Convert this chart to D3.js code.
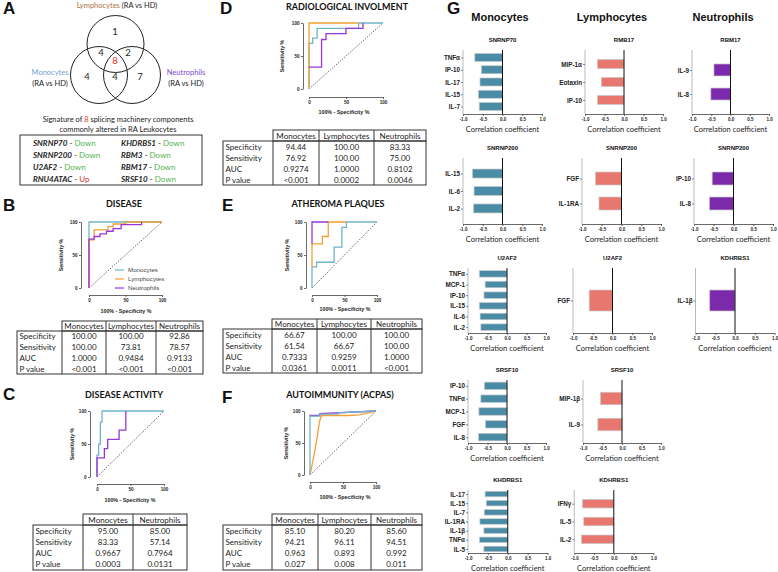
<!DOCTYPE html>
<html><head><meta charset="utf-8">
<script src="https://cdn.jsdelivr.net/npm/d3@7"></script>
<style>body{margin:0;background:#fff} svg{display:block}</style>
</head><body>
<svg id="c" width="778" height="572"></svg>
<script>
// ================= DATA =================
const panelLetters = ["A","B","C","D","E","F","G"];
const vennGroups = ["Lymphocytes","Monocytes","Neutrophils"];
const vennSub = "(RA vs HD)";
const vennCounts = ["1","4","2","8","4","4","7"];
const sigLine1 = ["Signature of ","8"," splicing machinery components"];
const sigLine2 = "commonly altered in RA Leukocytes";
const sigGenes = ["SNRNP70","SNRNP200","U2AF2","RNU4ATAC","KHDRBS1","RBM3","RBM17","SRSF10"];
const sigDir   = ["Down","Down","Down","Up","Down","Down","Down","Down"];

const rocTicks = [0,50,100];
const seriesNames = ["Monocytes","Lymphocytes","Neutrophils"];
// ROC points: [100% - specificity, sensitivity]
const rocDiseaseMono = [[0,0],[0,100],[100,100]];
const rocDiseaseLym  = [[0,0],[0,73],[7,73],[7,88],[26,88],[26,93],[33,93],[33,97],[50,97],[50,100],[100,100]];
const rocDiseaseNeu  = [[0,0],[0,74],[7,74],[7,78],[15,78],[15,82],[24,82],[24,86],[33,86],[33,90],[44,90],[44,96],[72,96],[72,100]];
const rocActivityMono = [[0,0],[0,33],[2.5,33],[2.5,50],[5,50],[5,83],[7.5,83],[7.5,100],[100,100]];
const rocActivityNeu  = [[0,0],[0,29],[11,29],[11,43],[16,43],[16,57],[33,57],[33,71],[43,71],[43,100]];
const rocRadioMono = [[0,0],[0,69],[5,69],[5,77],[11,77],[11,92],[67,92],[67,100],[100,100]];
const rocRadioLym  = [[0,0],[0,100],[67,100]];
const rocRadioNeu  = [[0,33],[17,33],[17,75],[23,75],[23,84],[50,84],[50,92],[73,92],[73,100]];
const rocAthMono = [[0,0],[0,32],[7,32],[7,39],[34,39],[34,62],[46,62],[46,92],[53,92],[53,100],[100,100]];
const rocAthLym  = [[0,32],[0,67],[16,67],[16,78],[25,78],[25,100],[53,100]];
const rocAthNeu  = [[0,67],[0,100],[25,100]];
const rocAcpaMono = [[0,0],[0,92],[14,92],[14,95],[43,95],[43,97],[100,100]];
const rocAcpaLym  = [[0,0],[4,20],[8,42],[11,60],[13,74],[15,86],[17,92],[20,93],[58,93],[75,94],[88,97],[100,100]];
const rocAcpaNeu  = [[0,92],[0,93],[15,93],[15,96],[100,100]];

const tableRows = ["Specificity","Sensitivity","AUC","P value"];
const tabDisease = [["100.00","100.00","1.0000","<0.001"],["100.00","73.81","0.9484","<0.001"],["92.86","78.57","0.9133","<0.001"]];
const tabActivity = [["95.00","83.33","0.9667","0.0003"],["85.00","57.14","0.7964","0.0131"]];
const tabRadio = [["94.44","76.92","0.9274","<0.001"],["100.00","100.00","1.0000","0.0002"],["83.33","75.00","0.8102","0.0046"]];
const tabAth = [["66.67","61.54","0.7333","0.0361"],["100.00","66.67","0.9259","0.0011"],["100.00","100.00","1.0000","<0.001"]];
const tabAcpa = [["85.10","94.21","0.963","0.027"],["80.20","96.11","0.893","0.008"],["85.60","94.51","0.992","0.011"]];

const corrTicks = [-1,-0.5,0,0.5,1];
const mSNRNP70_l = ["TNFα","IP-10","IL-17","IL-15","IL-7"], mSNRNP70_v = [-0.70,-0.53,-0.57,-0.61,-0.59];
const lRMB17_l = ["MIP-1α","Eotaxin","IP-10"], lRMB17_v = [-0.68,-0.58,-0.68];
const nRBM17_l = ["IL-9","IL-8"], nRBM17_v = [-0.43,-0.51];
const mSNRNP200_l = ["IL-15","IL-6","IL-2"], mSNRNP200_v = [-0.76,-0.72,-0.73];
const lSNRNP200_l = ["FGF","IL-1RA"], lSNRNP200_v = [-0.66,-0.57];
const nSNRNP200_l = ["IP-10","IL-8"], nSNRNP200_v = [-0.54,-0.61];
const mU2AF2_l = ["TNFα","MCP-1","IP-10","IL-15","IL-6","IL-2"], mU2AF2_v = [-0.71,-0.56,-0.59,-0.71,-0.69,-0.67];
const lU2AF2_l = ["FGF"], lU2AF2_v = [-0.59];
const nKDHRBS1_l = ["IL-1β"], nKDHRBS1_v = [-0.64];
const mSRSF10_l = ["IP-10","TNFα","MCP-1","FGF","IL-8"], mSRSF10_v = [-0.58,-0.67,-0.72,-0.55,-0.73];
const lSRSF10_l = ["MIP-1β","IL-9"], lSRSF10_v = [-0.55,-0.62];
const mKHDRBS1_l = ["IL-17","IL-15","IL-7","IL-1RA","IL-1β","TNFα","IL-5"], mKHDRBS1_v = [-0.57,-0.54,-0.59,-0.70,-0.60,-0.71,-0.60];
const lKDHRBS1_l = ["IFNγ","IL-5","IL-2"], lKDHRBS1_v = [-0.79,-0.76,-0.82];

// ================= STYLE =================
const FS = "Lato, 'Open Sans', sans-serif";
const FA = "'Liberation Sans', Arial, sans-serif";
const cMono = "#6fb5cb", cLym = "#f3a033", cNeu = "#9b35d8";
const bMono = "#4a8ba6", bLym = "#e8776f", bNeu = "#7a2aab";
const axisCol = "#444";

const svg = d3.select("#c");
function T(x,y,s,o={}) {
  const t = svg.append("text").attr("x",x).attr("y",y).text(s)
    .attr("font-family", o.ff||FS).attr("font-size", o.fs||8)
    .attr("font-weight", o.fw||"normal").attr("fill", o.fill||"#222")
    .attr("text-anchor", o.anchor||"start");
  if (o.style) t.attr("font-style", o.style);
  return t;
}

// ================= PANEL LETTERS =================
const letterPos = [[3,14],[3,211],[3,400],[220,14],[222,211],[222,403],[447,14]];
panelLetters.forEach((L,i)=>T(letterPos[i][0],letterPos[i][1],L,{ff:FA,fs:17,fw:"bold",fill:"#111"}));

// ================= PANEL A =================
(function(){
  const r = 28.5;
  const centers = [[115.5,44],[99,75],[132,75]];
  centers.forEach(c=>svg.append("circle").attr("cx",c[0]).attr("cy",c[1]).attr("r",r)
    .attr("fill","none").attr("stroke","#222").attr("stroke-width",1));
  const numPos = [[115,35],[101,56],[128,56],[115,64],[87,80],[115,80],[140,80]];
  vennCounts.forEach((n,i)=>T(numPos[i][0],numPos[i][1],n,{fs:9.5,anchor:"middle",fill:i===3?"#e0302a":"#222"}));
  const t1 = T(117,8,"",{fs:7.5,anchor:"middle"});
  t1.append("tspan").attr("fill","#b0703a").text(vennGroups[0]+" ");
  t1.append("tspan").text(vennSub);
  T(50,75,vennGroups[1],{fs:7.5,anchor:"middle",fill:"#6f9fd8"});
  T(50,86,vennSub,{fs:7.5,anchor:"middle"});
  T(186,75,vennGroups[2],{fs:7.5,anchor:"middle",fill:"#7a4ccc"});
  T(186,86,vennSub,{fs:7.5,anchor:"middle"});
  const s1 = T(118,122,"",{fs:7.5,anchor:"middle"});
  s1.append("tspan").text(sigLine1[0]);
  s1.append("tspan").attr("fill","#e0302a").text(sigLine1[1]);
  s1.append("tspan").text(sigLine1[2]);
  T(118,132,sigLine2,{fs:7.5,anchor:"middle"});
  svg.append("rect").attr("x",20).attr("y",135).attr("width",182).attr("height",50)
    .attr("fill","none").attr("stroke","#333").attr("stroke-width",1);
  sigGenes.forEach((g,i)=>{
    const col = Math.floor(i/4), row = i%4;
    const t = T(col===0?33:121, 146+row*12, "", {fs:8});
    t.append("tspan").attr("font-weight","bold").attr("font-style","italic").text(g);
    t.append("tspan").text(" - ");
    t.append("tspan").attr("fill", sigDir[i]==="Up"?"#e0302a":"#55b24f").text(sigDir[i]);
  });
})();

// ================= ROC =================
function roc(cfg, series, legend) {
  const x = d3.scaleLinear().domain([0,100]).range([cfg.x0,cfg.x1]);
  const y = d3.scaleLinear().domain([0,100]).range([cfg.yb,cfg.yt]);
  T(cfg.tx, cfg.ty, cfg.title, {fs:9, fw:"bold", anchor:"middle", fill:"#111"});
  const ya = svg.append("g").attr("transform",`translate(${cfg.yax},0)`)
    .call(d3.axisLeft(y).tickValues(rocTicks).tickSize(2).tickSizeOuter(0).tickPadding(1.5));
  const xa = svg.append("g").attr("transform",`translate(0,${cfg.xay})`)
    .call(d3.axisBottom(x).tickValues(rocTicks).tickSize(2).tickSizeOuter(0).tickPadding(1.5));
  [ya,xa].forEach(a=>{
    a.selectAll("path,line").attr("stroke",axisCol).attr("stroke-width",0.8);
    a.selectAll("text").attr("font-family",FA).attr("font-size",4.6).attr("font-weight","bold").attr("fill","#222");
  });
  svg.append("text").attr("transform",`translate(${cfg.ylx},${(cfg.yt+cfg.yb)/2}) rotate(-90)`)
    .attr("text-anchor","middle").attr("font-family",FA).attr("font-size",5.3).attr("font-weight","bold")
    .attr("fill","#222").text("Sensitivity %");
  T(cfg.xlx, cfg.xly, "100% - Specificity %", {ff:FA, fs:5.3, fw:"bold", anchor:"middle"});
  svg.append("line").attr("x1",x(0)).attr("y1",y(0)).attr("x2",x(100)).attr("y2",y(100))
    .attr("stroke","#222").attr("stroke-width",0.9).attr("stroke-dasharray","1,1.6");
  const line = d3.line().x(d=>x(d[0])).y(d=>y(d[1]));
  series.forEach(s=>svg.append("path").attr("d",line(s.pts)).attr("fill","none")
    .attr("stroke",s.color).attr("stroke-width",1.3));
  if (legend) {
    series.forEach((s,i)=>{
      const yy = 270 + i*9;
      svg.append("line").attr("x1",115).attr("x2",124).attr("y1",yy).attr("y2",yy).attr("stroke",s.color).attr("stroke-width",1.2);
      T(128, yy+2, s.name, {ff:FA, fs:6.2, fill:"#444"});
    });
  }
}
roc({x0:89,x1:162,yt:222,yb:288,yax:81,xay:295,title:"DISEASE",tx:124,ty:207,ylx:63,xlx:126,xly:313},
  [{name:seriesNames[0],pts:rocDiseaseMono,color:cMono},{name:seriesNames[1],pts:rocDiseaseLym,color:cLym},{name:seriesNames[2],pts:rocDiseaseNeu,color:cNeu}], true);
roc({x0:97,x1:164,yt:411,yb:477,yax:90,xay:484,title:"DISEASE ACTIVITY",tx:124,ty:398,ylx:74,xlx:130,xly:502},
  [{pts:rocActivityMono,color:cMono},{pts:rocActivityNeu,color:cNeu}]);
roc({x0:309,x1:383,yt:23,yb:89,yax:303,xay:97,title:"RADIOLOGICAL INVOLMENT",tx:347,ty:10,ylx:284,xlx:344,xly:114},
  [{pts:rocRadioMono,color:cMono},{pts:rocRadioLym,color:cLym},{pts:rocRadioNeu,color:cNeu}]);
roc({x0:312,x1:377,yt:222,yb:288,yax:306,xay:295,title:"ATHEROMA PLAQUES",tx:338,ty:207,ylx:289,xlx:345,xly:311},
  [{pts:rocAthMono,color:cMono},{pts:rocAthLym,color:cLym},{pts:rocAthNeu,color:cNeu}]);
roc({x0:310,x1:376,yt:411,yb:475,yax:304,xay:482,title:"AUTOIMMUNITY (ACPAS)",tx:340,ty:398,ylx:288,xlx:345,xly:499},
  [{pts:rocAcpaLym,color:cLym},{pts:rocAcpaNeu,color:cNeu},{pts:rocAcpaMono,color:cMono}]);

// ================= TABLES =================
function table(cfg, headers, cols) {
  const b = [cfg.left, ...cfg.cols];
  const n = b.length;
  const bottom = cfg.btop + tableRows.length*cfg.rowH;
  const st = s=>s.attr("fill","none").attr("stroke","#333").attr("stroke-width",1);
  st(svg.append("rect").attr("x",b[1]).attr("y",cfg.htop).attr("width",b[n-1]-b[1]).attr("height",cfg.btop-cfg.htop));
  st(svg.append("rect").attr("x",b[0]).attr("y",cfg.btop).attr("width",b[n-1]-b[0]).attr("height",bottom-cfg.btop));
  for (let i=1;i<n-1;i++) st(svg.append("line").attr("x1",b[i]).attr("x2",b[i]).attr("y1",i===1?cfg.btop:cfg.htop).attr("y2",bottom));
  headers.forEach((h,i)=>T((b[i+1]+b[i+2])/2, (cfg.htop+cfg.btop)/2+3, h, {fs:8, anchor:"middle"}));
  tableRows.forEach((r,j)=>{
    const yy = cfg.btop + cfg.rowH*(j+0.5) + 3;
    T(b[0]+2.5, yy, r, {fs:8});
    cols.forEach((c,i)=>T((b[i+1]+b[i+2])/2, yy, c[j], {fs:8, anchor:"middle"}));
  });
}
table({left:17,cols:[62,106,156,203],htop:321,btop:331,rowH:10.75}, seriesNames, tabDisease);
table({left:33,cols:[83,133,187],htop:514,btop:525,rowH:11.25}, [seriesNames[0],seriesNames[2]], tabActivity);
table({left:223,cols:[273,319,374,426],htop:130,btop:141,rowH:11}, seriesNames, tabRadio);
table({left:223,cols:[272,317,371,422],htop:319,btop:329,rowH:11}, seriesNames, tabAth);
table({left:223,cols:[272,318,371,422],htop:514,btop:525,rowH:11.25}, seriesNames, tabAcpa);

// ================= PANEL G =================
const colTitleX = [500,612,723];
seriesNames.forEach((s,i)=>T(colTitleX[i],21,s,{ff:FA,fs:11,fw:"bold",anchor:"middle",fill:"#111"}));

function bars(cfg, title, labels, vals, color) {
  const x = d3.scaleLinear().domain([-1,1]).range([cfg.xl,cfg.xr]);
  const y = d3.scalePoint().domain(labels).range([cfg.top,cfg.bot]).padding(cfg.pad);
  T((cfg.xl+cfg.xr)/2, cfg.top-8, title, {ff:FA, fs:6, fw:"bold", anchor:"middle", fill:"#111"});
  labels.forEach((l,i)=>{
    const v = vals[i];
    svg.append("rect").attr("x",x(Math.min(v,0))).attr("width",Math.abs(x(v)-x(0)))
      .attr("y",y(l)-cfg.h/2).attr("height",cfg.h).attr("fill",color)
      .attr("stroke","#c8c8c8").attr("stroke-width",0.7);
  });
  const ya = svg.append("g").attr("transform",`translate(${x(-1)},0)`)
    .call(d3.axisLeft(y).tickSize(2).tickSizeOuter(0).tickPadding(1));
  ya.select("path").attr("d",`M0,${cfg.top}V${cfg.bot}`).attr("stroke","#aaa").attr("stroke-width",0.8);
  ya.selectAll("line").attr("stroke","#555").attr("stroke-width",0.7);
  ya.selectAll("text").attr("font-family",FA).attr("font-size",6.3).attr("font-weight","bold").attr("fill","#222");
  const xa = svg.append("g").attr("transform",`translate(0,${cfg.bot})`)
    .call(d3.axisBottom(x).tickValues(corrTicks).tickSize(2).tickSizeOuter(0).tickPadding(1.5).tickFormat(d=>d.toFixed(1)));
  xa.selectAll("path,line").attr("stroke",axisCol).attr("stroke-width",0.8);
  xa.selectAll("text").attr("font-family",FA).attr("font-size",4.5).attr("font-weight","bold").attr("fill","#222");
  svg.append("line").attr("x1",x(0)).attr("x2",x(0)).attr("y1",cfg.top).attr("y2",cfg.bot)
    .attr("stroke","#111").attr("stroke-width",1);
  T((cfg.xl+cfg.xr)/2, cfg.bot+18, "Correlation coefficient", {fs:7.5, anchor:"middle"});
}
// row 1
bars({xl:463,xr:542,top:50,bot:114,pad:0.61,h:8}, "SNRNP70", mSNRNP70_l, mSNRNP70_v, bMono);
bars({xl:585,xr:663,top:50,bot:114,pad:0.78,h:9}, "RMB17", lRMB17_l, lRMB17_v, bLym);
bars({xl:692,xr:769,top:50,bot:114,pad:0.83,h:12}, "RBM17", nRBM17_l, nRBM17_v, bNeu);
// row 2
bars({xl:463,xr:542,top:158,bot:224,pad:0.89,h:9}, "SNRNP200", mSNRNP200_l, mSNRNP200_v, bMono);
bars({xl:582,xr:661,top:158,bot:224,pad:0.82,h:13}, "SNRNP200", lSNRNP200_l, lSNRNP200_v, bLym);
bars({xl:694,xr:773,top:158,bot:224,pad:0.82,h:13}, "SNRNP200", nSNRNP200_l, nSNRNP200_v, bNeu);
// row 3
bars({xl:468,xr:546,top:268,bot:333,pad:0.55,h:6.5}, "U2AF2", mU2AF2_l, mU2AF2_v, bMono);
bars({xl:573,xr:652,top:268,bot:333,pad:0.5,h:21}, "U2AF2", lU2AF2_l, lU2AF2_v, bLym);
bars({xl:695.5,xr:774.5,top:268,bot:333,pad:0.5,h:21}, "KDHRBS1", nKDHRBS1_l, nKDHRBS1_v, bNeu);
// row 4
bars({xl:468,xr:546,top:380,bot:443,pad:0.46,h:7.5}, "SRSF10", mSRSF10_l, mSRSF10_v, bMono);
bars({xl:583,xr:661,top:380,bot:443,pad:0.71,h:12.5}, "SRSF10", lSRSF10_l, lSRSF10_v, bLym);
// row 5
bars({xl:468,xr:547.5,top:490,bot:553,pad:0.44,h:5.5}, "KHDRBS1", mKHDRBS1_l, mKHDRBS1_v, bMono);
bars({xl:574.3,xr:653.3,top:490,bot:553,pad:0.77,h:8.5}, "KDHRBS1", lKDHRBS1_l, lKDHRBS1_v, bLym);
</script>
</body></html>
